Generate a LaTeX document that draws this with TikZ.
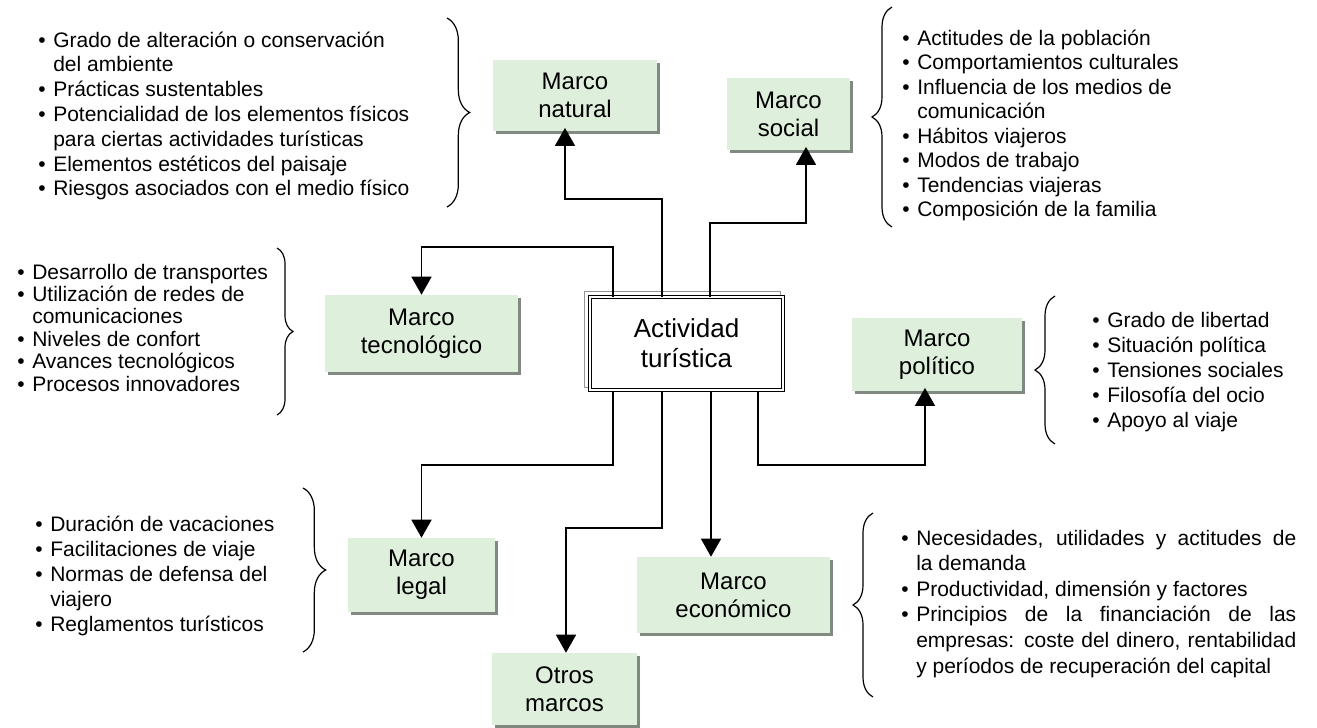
\documentclass[tikz,border=0pt]{standalone}
\usepackage{fontspec}
\setmainfont{Liberation Sans}
\usetikzlibrary{arrows.meta,decorations.pathreplacing,calc,shadows}

\definecolor{boxgreen}{RGB}{222,239,220}
\definecolor{boxshadow}{RGB}{128,138,128}
\definecolor{edgegray}{RGB}{150,150,150}

\newcommand{\frmfont}{\fontsize{18}{21}\selectfont}
\newcommand{\corefont}{\fontsize{19.5}{22.5}\selectfont}
\newcommand{\itemsize}[1]{\fontsize{15.75}{#1}\selectfont}

\begin{document}
\begin{tikzpicture}[x=0.75pt,y=-0.75pt,
  every node/.style={inner sep=0pt},
  frame/.style={fill=boxgreen, align=center, font=\frmfont,
    general shadow={fill=boxshadow, shadow xshift=2.6pt, shadow yshift=-2.6pt}},
  core/.style={draw, line width=0.75pt, double=white, double distance=1.6pt,
    fill=white, align=center, font=\corefont,
    minimum width=144.75pt, minimum height=69.75pt},
  conn/.style={line width=1.1pt, -{Triangle[width=15pt,length=13.5pt]}},
  curly/.style={decorate, decoration={brace, amplitude=#1}, line width=0.9pt},
  curly/.default=16pt,
  items/.style={anchor=base west}
]
\fill[white] (0,0) rectangle (1317,728);
\useasboundingbox (0,0) rectangle (1317,728);

% framework boxes
\node[frame, minimum width=123pt, minimum height=53.25pt] (nat) at (575,95.5) {Marco\\natural};
\node[frame, minimum width=92.25pt, minimum height=54pt] (soc) at (788.5,114) {Marco\\social};
\node[frame, minimum width=144.75pt, minimum height=57.75pt] (tec) at (421.5,333.5) {Marco\\tecnológico};
\node[frame, minimum width=127.5pt, minimum height=54.75pt] (pol) at (937,354.5) {Marco\\político};
\node[frame, minimum width=110.25pt, minimum height=55.5pt] (leg) at (421.5,575) {Marco\\legal};
\node[frame, minimum width=144.75pt, minimum height=57pt] (eco) at (733.5,595) {Marco\\económico};
\node[frame, minimum width=108.75pt, minimum height=54pt] (otr) at (564.5,689) {Otros\\marcos};

% central activity box
\draw[edgegray, line width=0.75pt] (584,291) rectangle (780,387);
\node[core] (act) at (686.5,343.5) {Actividad\\turística};

% connectors
\draw[conn] (613,0 |- act.north) -- (613,247) -| (tec.north);
\draw[conn, shorten >=-2.5pt] (662,0 |- act.north) -- (662,199) -| (565,0 |- nat.south);
\draw[conn, shorten >=-2.5pt] (710,0 |- act.north) -- (710,223) -| (806,0 |- soc.south);
\draw[conn] (613,0 |- act.south) -- (613,465) -| (leg.north);
\draw[conn] (662,0 |- act.south) -- (662,528) -| (566,0 |- otr.north);
\draw[conn] (711,0 |- act.south) -- (711,0 |- eco.north);
\draw[conn, shorten >=-2.5pt] (758,0 |- act.south) -- (758,465) -| (925,0 |- pol.south);

% braces
\draw[curly=17pt] (447,18) -- (447,207);
\draw[curly=15pt] (892,227) -- (892,7);
\draw[curly=12pt] (277,248) -- (277,415);
\draw[curly=15pt] (1055,444) -- (1055,296);
\draw[curly=17pt] (303,488) -- (303,652);
\draw[curly=15pt] (873,697) -- (873,513);

% item lists
\node[items, font=\itemsize{18.6}] (lnat) at (38,47) {\begin{tabular}[t]{@{}p{11.25pt}@{}l@{}}
\textbullet & Grado de alteración o conservación\\
 & del ambiente\\
\textbullet & Prácticas sustentables\\
\textbullet & Potencialidad de los elementos físicos\\
 & para ciertas actividades turísticas\\
\textbullet & Elementos estéticos del paisaje\\
\textbullet & Riesgos asociados con el medio físico
\end{tabular}};

\node[items, font=\itemsize{18.4}] (lsoc) at (902,45) {\begin{tabular}[t]{@{}p{11.25pt}@{}l@{}}
\textbullet & Actitudes de la población\\
\textbullet & Comportamientos culturales\\
\textbullet & Influencia de los medios de\\
 & comunicación\\
\textbullet & Hábitos viajeros\\
\textbullet & Modos de trabajo\\
\textbullet & Tendencias viajeras\\
\textbullet & Composición de la familia
\end{tabular}};

\node[items, font=\itemsize{16.8}] (ltec) at (17,279) {\begin{tabular}[t]{@{}p{11.25pt}@{}l@{}}
\textbullet & Desarrollo de transportes\\
\textbullet & Utilización de redes de\\
 & comunicaciones\\
\textbullet & Niveles de confort\\
\textbullet & Avances tecnológicos\\
\textbullet & Procesos innovadores
\end{tabular}};

\node[items, font=\itemsize{18.75}] (lpol) at (1092,327) {\begin{tabular}[t]{@{}p{11.25pt}@{}l@{}}
\textbullet & Grado de libertad\\
\textbullet & Situación política\\
\textbullet & Tensiones sociales\\
\textbullet & Filosofía del ocio\\
\textbullet & Apoyo al viaje
\end{tabular}};

\node[items, font=\itemsize{18.75}] (lleg) at (35,531) {\begin{tabular}[t]{@{}p{11.25pt}@{}l@{}}
\textbullet & Duración de vacaciones\\
\textbullet & Facilitaciones de viaje\\
\textbullet & Normas de defensa del\\
 & viajero\\
\textbullet & Reglamentos turísticos
\end{tabular}};

\node[items, font=\itemsize{19.2}] (leco) at (901,545) {\begin{tabular}[t]{@{}p{11.25pt}@{}l@{}}
\textbullet & \makebox[285pt][s]{Necesidades, utilidades y actitudes de}\\
 & la demanda\\
\textbullet & Productividad, dimensión y factores\\
\textbullet & \makebox[285pt][s]{Principios de la financiación de las}\\
 & \makebox[285pt][s]{empresas: coste del dinero, rentabilidad}\\
 & y períodos de recuperación del capital
\end{tabular}};
\end{tikzpicture}
\end{document}
